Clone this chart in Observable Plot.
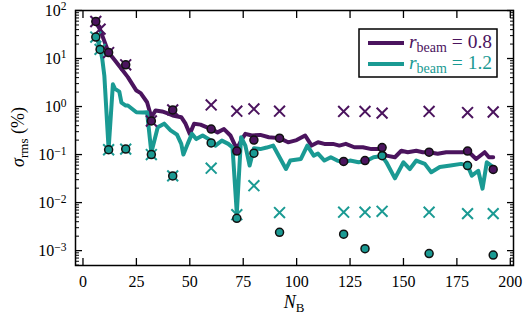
<!DOCTYPE html>
<html><head><meta charset="utf-8">
<script src="https://cdn.jsdelivr.net/npm/d3@7"></script>
<script src="https://cdn.jsdelivr.net/npm/@observablehq/plot@0.6"></script>
<style>
html,body{margin:0;padding:0;background:#fff;}
#chart{width:526px;height:319px;}
#chart svg, #chart svg text{font-family:"Liberation Serif", Tinos, "Times New Roman", Times, serif !important;}
</style></head><body><div id="chart"></div>
<script>
// ---- data ----
const purpleLineN = [6,8,12,15,18,21,25,27,30,32,34,37,40,42,46,48,50,52,55,60,63,66,69,72,74,76,79,83,87,92,96,100,104,107,110,113,117,120,123,127,131,135,139,142,146,149,152,156,159,162,166,170,174,178,180,184,188,190,192];
const purpleLineV = [59,40,13.3,9.1,6.1,4.1,2.15,1.9,1.23,0.6,0.83,0.79,0.71,0.65,0.60,0.44,0.27,0.44,0.42,0.34,0.29,0.34,0.25,0.13,0.196,0.27,0.25,0.257,0.23,0.22,0.18,0.20,0.25,0.154,0.18,0.167,0.167,0.154,0.167,0.142,0.142,0.13,0.13,0.095,0.088,0.12,0.112,0.12,0.112,0.112,0.104,0.112,0.112,0.112,0.12,0.081,0.112,0.088,0.088];

const tealLineN = [6,8,9,10,12,14,15,17,18,20,21,25,28,30,32,35,38,41,44,46,47,49,51,53,56,60,62,65,68,70,72,74,76,78,80,83,86,89,92,95,97,102,105,108,110,113,116,119,122,125,129,133,136,140,142,146,150,153,156,160,163,167,172,177,180,182,185,187,189,192];
const tealLineV = [30,17,10,4.4,0.13,2.9,2.34,2.05,1.21,1.05,1.05,0.76,0.75,0.76,0.11,0.37,0.44,0.32,0.26,0.167,0.10,0.167,0.27,0.21,0.25,0.195,0.154,0.195,0.167,0.14,0.006,0.23,0.154,0.059,0.136,0.13,0.14,0.154,0.088,0.05,0.075,0.081,0.154,0.095,0.105,0.075,0.088,0.075,0.069,0.075,0.069,0.075,0.088,0.093,0.069,0.032,0.069,0.05,0.075,0.064,0.043,0.055,0.059,0.064,0.059,0.0365,0.046,0.0195,0.069,0.055];

const markerN = [6,8,12,20,32,42,60,72,80,92,122,132,140,162,180,192];
const purpleCrossV = [59,41,13.3,7.4,0.5,0.85,1.08,0.8,0.89,0.8,0.79,0.79,0.73,0.79,0.75,0.77];
const tealCrossV = [28,15.5,0.126,0.13,0.10,0.036,0.052,0.0056,0.0225,0.0062,0.0063,0.0063,0.0066,0.0063,0.0059,0.0059];
const purpleCircleN = [6,12,20,32,42,60,72,80,92,122,132,140,162,180,192];
const purpleCircleV = [59,13.3,7.4,0.5,0.85,0.34,0.118,0.2,0.22,0.072,0.075,0.14,0.112,0.118,0.049];
const tealCircleN = [6,8,12,20,32,42,60,72,80,92,122,132,140,162,180,192];
const tealCircleV = [28,15.5,0.126,0.13,0.10,0.036,0.175,0.0047,0.107,0.0024,0.0022,0.0011,0.095,0.00087,0.059,0.00081];

const xTicks = [0,25,50,75,100,125,150,175,200];
const yMajor = [1e-3,1e-2,1e-1,1,10,100];
const seriesLabels = ["0.8","1.2"];

// ---- style ----
const purple = "#4b145e", teal = "#1a9a93";
const serif = '"Liberation Serif", Tinos, "Times New Roman", Times, serif';
const yDomain = [4.9e-4, 100];
const yMinor = [];
for (let d = -4; d <= 1; d++) for (let m = 2; m <= 9; m++) {
  const v = m * Math.pow(10, d);
  if (v >= yDomain[0] && v <= yDomain[1]) yMinor.push(v);
}
const zip = (N, V) => N.map((n, i) => ({n, v: V[i]}));

const plot = Plot.plot({
  width: 526, height: 319,
  marginLeft: 75, marginRight: 13, marginTop: 10, marginBottom: 54,
  style: {fontFamily: serif, fontSize: "16px", color: "#000", background: "#fff", overflow: "visible"},
  x: {domain: [-3.5, 201.5]},
  y: {type: "log", domain: yDomain},
  marks: [
    Plot.line(zip(purpleLineN, purpleLineV), {x: "n", y: "v", stroke: purple, strokeWidth: 4, strokeLinejoin: "round"}),
    Plot.line(zip(tealLineN, tealLineV), {x: "n", y: "v", stroke: teal, strokeWidth: 4, strokeLinejoin: "round"}),
    Plot.dot(zip(markerN, purpleCrossV), {x: "n", y: "v", symbol: "times", r: 5, stroke: purple, strokeWidth: 2}),
    Plot.dot(zip(markerN, tealCrossV), {x: "n", y: "v", symbol: "times", r: 5, stroke: teal, strokeWidth: 2}),
    Plot.dot(zip(purpleCircleN, purpleCircleV), {x: "n", y: "v", r: 4, fill: purple, stroke: "#111", strokeWidth: 1.5}),
    Plot.dot(zip(tealCircleN, tealCircleV), {x: "n", y: "v", r: 4, fill: teal, stroke: "#111", strokeWidth: 1.5}),
    Plot.frame({stroke: "#000", strokeWidth: 1.5}),
    Plot.axisX({anchor: "bottom", ticks: xTicks, tickSize: -7, fill: "none", label: null, strokeWidth: 1.3}),
    Plot.axisX({anchor: "top", ticks: xTicks, tickSize: -7, fill: "none", label: null, strokeWidth: 1.3}),
    Plot.axisX({anchor: "bottom", ticks: xTicks, tickSize: 0, tickPadding: 10, label: null, fontSize: 16}),
    Plot.axisY({anchor: "left", ticks: yMajor, tickSize: -7, fill: "none", label: null, strokeWidth: 1.3}),
    Plot.axisY({anchor: "right", ticks: yMajor, tickSize: -7, fill: "none", label: null, strokeWidth: 1.3}),
    Plot.axisY({anchor: "left", ticks: yMinor, tickSize: -4, fill: "none", label: null, strokeWidth: 1}),
    Plot.axisY({anchor: "right", ticks: yMinor, tickSize: -4, fill: "none", label: null, strokeWidth: 1}),
    Plot.axisY({anchor: "left", ticks: yMajor, tickSize: 0, tickPadding: 9, label: null, fontSize: 16,
      tickFormat: d => "10^" + Math.round(Math.log10(d))})
  ]
});
document.getElementById("chart").appendChild(plot);

// superscript exponents on the y tick labels
const svg = d3.select(plot);
svg.selectAll('g[aria-label="y-axis tick label"] text').each(function () {
  const target = this.querySelector("tspan") || this;
  const s = target.textContent;
  if (!s.includes("^")) return;
  const [b, e] = s.split("^");
  target.textContent = b;
  const sup = document.createElementNS("http://www.w3.org/2000/svg", "tspan");
  sup.setAttribute("dy", "-0.45em");
  sup.setAttribute("font-size", "11.5px");
  sup.textContent = e.replace("-", "\u2212");
  target.appendChild(sup);
});

// axis titles
const xl = svg.append("text").attr("x", 294).attr("y", 308).attr("text-anchor", "middle")
  .attr("font-family", serif).attr("font-size", 18).attr("fill", "#000");
xl.append("tspan").attr("font-style", "italic").text("N");
xl.append("tspan").attr("font-size", 13).attr("dy", 4).text("B");

const yl = svg.append("text").attr("transform", "translate(24,137) rotate(-90)").attr("text-anchor", "middle")
  .attr("font-family", serif).attr("font-size", 18).attr("fill", "#000");
yl.append("tspan").attr("font-style", "italic").text("σ");
yl.append("tspan").attr("font-size", 13).attr("dy", 4).text("rms");
yl.append("tspan").attr("dy", -4).text(" (%)");

// legend inside the frame
const lg = svg.append("g");
lg.append("rect").attr("x", 359).attr("y", 29).attr("width", 138).attr("height", 48)
  .attr("fill", "#fff").attr("stroke", "#000").attr("stroke-width", 1.5);
[[purple, 43, 47.5], [teal, 64, 68.5]].forEach(([c, ly, ty], i) => {
  lg.append("line").attr("x1", 368).attr("x2", 404).attr("y1", ly).attr("y2", ly)
    .attr("stroke", c).attr("stroke-width", 4);
  const t = lg.append("text").attr("x", 409).attr("y", ty).attr("text-anchor", "start")
    .attr("font-family", serif).attr("font-size", 19.5).attr("fill", c);
  t.append("tspan").attr("font-style", "italic").text("r");
  t.append("tspan").attr("font-size", 14).attr("dy", 4).text("beam");
  t.append("tspan").attr("dy", -4).text(" = " + seriesLabels[i]);
});
</script></body></html>
